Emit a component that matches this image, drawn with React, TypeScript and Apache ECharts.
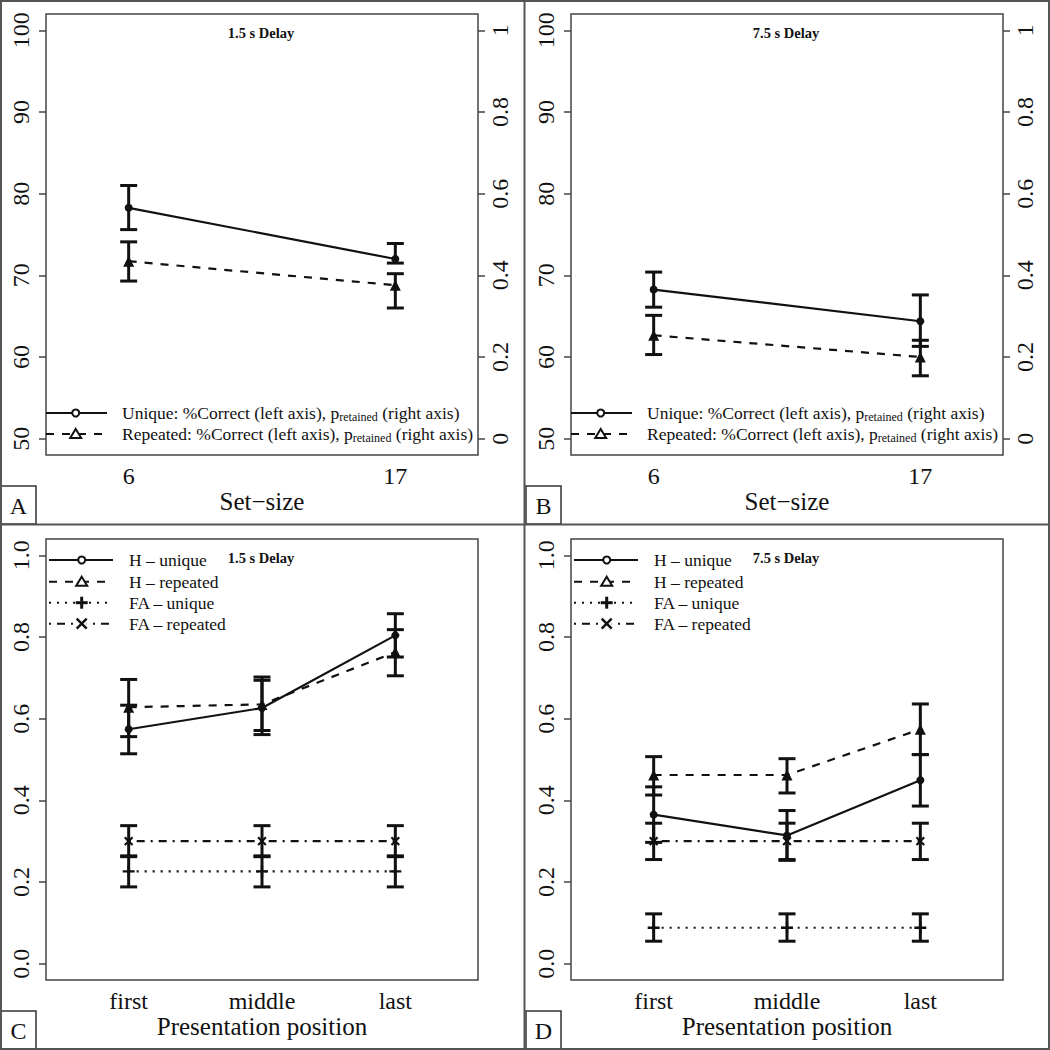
import React, { useEffect, useRef } from "react";
import * as echarts from "echarts";

// ---------------- DATA ----------------
const setSizes = [6, 17];
const positions = [1, 2, 3];
const positionLabels = ["first", "middle", "last"];
const leftTicksAB = [50, 60, 70, 80, 90, 100];
const rightTicksAB = [0, 0.2, 0.4, 0.6, 0.8, 1];
const ticksCD = [0, 0.2, 0.4, 0.6, 0.8, 1.0];

// Panel A (1.5 s delay) — %Correct
const uniqueA = [78.27, 72.0];
const uniqueALo = [75.6, 71.5];
const uniqueAHi = [81.0, 73.9];
const repeatedA = [71.73, 68.79];
const repeatedALo = [69.3, 66.0];
const repeatedAHi = [74.1, 70.2];

// Panel B (7.5 s delay)
const uniqueB = [68.26, 64.38];
const uniqueBLo = [66.1, 61.3];
const uniqueBHi = [70.4, 67.6];
const repeatedB = [62.66, 60.0];
const repeatedBLo = [60.3, 57.7];
const repeatedBHi = [65.1, 62.05];

// Panel C (1.5 s delay) — hits / false alarms
const hUniqueC = [0.574, 0.626, 0.804];
const hUniqueCLo = [0.514, 0.561, 0.751];
const hUniqueCHi = [0.633, 0.694, 0.857];
const hRepeatedC = [0.628, 0.635, 0.763];
const hRepeatedCLo = [0.556, 0.571, 0.705];
const hRepeatedCHi = [0.696, 0.702, 0.818];
const faUniqueC = [0.226, 0.226, 0.226];
const faUniqueCLo = [0.188, 0.188, 0.188];
const faUniqueCHi = [0.264, 0.264, 0.264];
const faRepeatedC = [0.3, 0.3, 0.3];
const faRepeatedCLo = [0.262, 0.262, 0.262];
const faRepeatedCHi = [0.338, 0.338, 0.338];

// Panel D (7.5 s delay)
const hUniqueD = [0.365, 0.314, 0.449];
const hUniqueDLo = [0.297, 0.253, 0.386];
const hUniqueDHi = [0.433, 0.375, 0.512];
const hRepeatedD = [0.462, 0.462, 0.574];
const hRepeatedDLo = [0.413, 0.418, 0.512];
const hRepeatedDHi = [0.507, 0.502, 0.636];
const faUniqueD = [0.088, 0.088, 0.088];
const faUniqueDLo = [0.055, 0.055, 0.055];
const faUniqueDHi = [0.122, 0.122, 0.122];
const faRepeatedD = [0.3, 0.3, 0.3];
const faRepeatedDLo = [0.255, 0.255, 0.255];
const faRepeatedDHi = [0.344, 0.344, 0.344];

const titles = ["1.5 s Delay", "7.5 s Delay", "1.5 s Delay", "7.5 s Delay"];
const panelLetters = ["A", "B", "C", "D"];
const legendAB = ["Unique", "Repeated"];
const legendCD = ["H \u2013 unique", "H \u2013 repeated", "FA \u2013 unique", "FA \u2013 repeated"];

// ---------------- STYLE ----------------
const FONT = '"Liberation Serif", "Times New Roman", serif';
const INK = "#111";
const BOX = "#444";
const DASH = [8, 8];
const DOT = [2, 6];
const DOTDASH = [2, 6, 8, 6];
const PLUS = "path://M4,0H6V4H10V6H6V10H4V6H0V4H4Z";

const origins = [
  [0, 0],
  [525, 0],
  [0, 525],
  [525, 525],
];

function lineSeries(xs: number[], ys: number[], xi: number, yi: number, symbol: string, size: number, dash: any, rotate = 0) {
  return {
    type: "line",
    xAxisIndex: xi,
    yAxisIndex: yi,
    data: xs.map((x, i) => [x, ys[i]]),
    symbol,
    symbolSize: size,
    symbolRotate: rotate,
    symbolKeepAspect: true,
    itemStyle: { color: INK },
    lineStyle: { color: INK, width: 2.2, type: dash },
    z: 3,
    silent: true,
  };
}

function errSeries(xs: number[], lo: number[], hi: number[], xi: number, yi: number) {
  return {
    type: "custom",
    xAxisIndex: xi,
    yAxisIndex: yi,
    data: xs.map((x, i) => [x, lo[i], hi[i]]),
    encode: { x: 0, y: [1, 2] },
    z: 4,
    silent: true,
    renderItem: (params: any, api: any) => {
      const x = api.value(0);
      const a = api.coord([x, api.value(1)]);
      const b = api.coord([x, api.value(2)]);
      const w = 8.5;
      const st = { stroke: INK, lineWidth: 3 };
      return {
        type: "group",
        children: [
          { type: "line", shape: { x1: a[0], y1: a[1], x2: b[0], y2: b[1] }, style: st },
          { type: "line", shape: { x1: a[0] - w, y1: a[1], x2: a[0] + w, y2: a[1] }, style: st },
          { type: "line", shape: { x1: b[0] - w, y1: b[1], x2: b[0] + w, y2: b[1] }, style: st },
        ],
      };
    },
  };
}

function legendMarker(kind: string, cx: number, cy: number): any[] {
  const st = { stroke: INK, lineWidth: 2, fill: "#fff" };
  if (kind === "circle") return [{ type: "circle", shape: { cx, cy, r: 3.5 }, style: st, z: 10 }];
  if (kind === "triangle")
    return [
      {
        type: "polygon",
        shape: { points: [[cx, cy - 5], [cx + 5.5, cy + 4], [cx - 5.5, cy + 4]] },
        style: st,
        z: 10,
      },
    ];
  if (kind === "plus")
    return [
      { type: "line", shape: { x1: cx - 6, y1: cy, x2: cx + 6, y2: cy }, style: { stroke: INK, lineWidth: 3 }, z: 10 },
      { type: "line", shape: { x1: cx, y1: cy - 6, x2: cx, y2: cy + 6 }, style: { stroke: INK, lineWidth: 3 }, z: 10 },
    ];
  return [
    { type: "rect", shape: { x: cx - 5, y: cy - 5, width: 10, height: 10 }, style: { fill: "#fff" }, z: 9 },
    { type: "line", shape: { x1: cx - 5, y1: cy - 5, x2: cx + 5, y2: cy + 5 }, style: { stroke: INK, lineWidth: 2.5 }, z: 10 },
    { type: "line", shape: { x1: cx - 5, y1: cy + 5, x2: cx + 5, y2: cy - 5 }, style: { stroke: INK, lineWidth: 2.5 }, z: 10 },
  ];
}

function legendRow(
  ox: number,
  y: number,
  x1: number,
  x2: number,
  mx: number,
  tx: number,
  dash: any,
  marker: string,
  text: string,
  rich: boolean
): any[] {
  const els: any[] = [];
  els.push({
    type: "line",
    shape: { x1: ox + x1, y1: y, x2: ox + x2, y2: y },
    style: { stroke: INK, lineWidth: 2, lineDash: dash || undefined },
    z: 9,
  });
  els.push(...legendMarker(marker, ox + mx, y));
  els.push({
    type: "text",
    x: ox + tx,
    y,
    z: 10,
    style: {
      text,
      fill: INK,
      fontFamily: FONT,
      fontSize: 17.5,
      align: "left",
      verticalAlign: "middle",
      lineHeight: 20,
      rich: rich
        ? {
            sub: { fontSize: 12, fontFamily: FONT, verticalAlign: "bottom", lineHeight: 20, fill: INK },
          }
        : undefined,
    },
  });
  return els;
}

export default function App() {
  const ref = useRef<HTMLDivElement>(null);

  useEffect(() => {
    if (!ref.current) return;
    const chart = echarts.init(ref.current, undefined, { renderer: "svg", width: 1050, height: 1050 });

    const grids = origins.map(([ox, oy]) => ({
      left: ox + 46,
      top: oy + 14,
      width: 432,
      height: 441,
      show: true,
      borderColor: BOX,
      borderWidth: 1.5,
      backgroundColor: "transparent",
      containLabel: false,
    }));

    const tickStyle = { show: true, length: 7, inside: false, lineStyle: { color: BOX, width: 1.5 } };
    const labelBase = { color: INK, fontFamily: FONT };

    const xAxes = origins.map((_, g) => {
      const isAB = g < 2;
      return {
        type: "value",
        gridIndex: g,
        min: isAB ? 2.59 : 0.38,
        max: isAB ? 20.41 : 3.62,
        axisLine: { show: false },
        axisTick: { show: false },
        splitLine: { show: false },
        axisLabel: {
          ...labelBase,
          fontSize: 24,
          margin: 9,
          customValues: isAB ? setSizes : positions,
          formatter: (v: number) => (isAB ? String(v) : positionLabels[Math.round(v) - 1]),
        },
        name: isAB ? "Set\u2212size" : "Presentation position",
        nameLocation: "middle",
        nameGap: 34,
        nameTextStyle: { color: INK, fontFamily: FONT, fontSize: 25 },
      };
    });

    const yAxes: any[] = [];
    // A left/right, B left/right, C, D
    [0, 1].forEach((g) => {
      yAxes.push({
        type: "value",
        gridIndex: g,
        position: "left",
        min: 48,
        max: 102,
        axisLine: { show: false },
        splitLine: { show: false },
        axisTick: { ...tickStyle, customValues: leftTicksAB },
        axisLabel: { ...labelBase, fontSize: 24, rotate: 90, margin: 13, customValues: leftTicksAB, formatter: (v: number) => String(v) },
      });
      yAxes.push({
        type: "value",
        gridIndex: g,
        position: "right",
        min: -0.04,
        max: 1.04,
        axisLine: { show: false },
        splitLine: { show: false },
        axisTick: { ...tickStyle, customValues: rightTicksAB },
        axisLabel: {
          ...labelBase,
          fontSize: 24,
          rotate: 90,
          margin: 10,
          customValues: rightTicksAB,
          formatter: (v: number) => (v === 0 ? "0" : v === 1 ? "1" : v.toFixed(1)),
        },
      });
    });
    [2, 3].forEach((g) => {
      yAxes.push({
        type: "value",
        gridIndex: g,
        position: "left",
        min: -0.04,
        max: 1.04,
        axisLine: { show: false },
        splitLine: { show: false },
        axisTick: { ...tickStyle, customValues: ticksCD },
        axisLabel: { ...labelBase, fontSize: 24, rotate: 90, margin: 13, customValues: ticksCD, formatter: (v: number) => v.toFixed(1) },
      });
    });

    const series: any[] = [
      // A
      lineSeries(setSizes, uniqueA, 0, 0, "circle", 8, "solid"),
      lineSeries(setSizes, repeatedA, 0, 0, "triangle", 11, DASH),
      errSeries(setSizes, uniqueALo, uniqueAHi, 0, 0),
      errSeries(setSizes, repeatedALo, repeatedAHi, 0, 0),
      // B
      lineSeries(setSizes, uniqueB, 1, 2, "circle", 8, "solid"),
      lineSeries(setSizes, repeatedB, 1, 2, "triangle", 11, DASH),
      errSeries(setSizes, uniqueBLo, uniqueBHi, 1, 2),
      errSeries(setSizes, repeatedBLo, repeatedBHi, 1, 2),
      // C
      lineSeries(positions, hUniqueC, 2, 4, "circle", 8, "solid"),
      lineSeries(positions, hRepeatedC, 2, 4, "triangle", 11, DASH),
      lineSeries(positions, faUniqueC, 2, 4, PLUS, 12, DOT),
      lineSeries(positions, faRepeatedC, 2, 4, PLUS, 11, DOTDASH, 45),
      errSeries(positions, hUniqueCLo, hUniqueCHi, 2, 4),
      errSeries(positions, hRepeatedCLo, hRepeatedCHi, 2, 4),
      errSeries(positions, faUniqueCLo, faUniqueCHi, 2, 4),
      errSeries(positions, faRepeatedCLo, faRepeatedCHi, 2, 4),
      // D
      lineSeries(positions, hUniqueD, 3, 5, "circle", 8, "solid"),
      lineSeries(positions, hRepeatedD, 3, 5, "triangle", 11, DASH),
      lineSeries(positions, faUniqueD, 3, 5, PLUS, 12, DOT),
      lineSeries(positions, faRepeatedD, 3, 5, PLUS, 11, DOTDASH, 45),
      errSeries(positions, hUniqueDLo, hUniqueDHi, 3, 5),
      errSeries(positions, hRepeatedDLo, hRepeatedDHi, 3, 5),
      errSeries(positions, faUniqueDLo, faUniqueDHi, 3, 5),
      errSeries(positions, faRepeatedDLo, faRepeatedDHi, 3, 5),
    ];

    const graphics: any[] = [];
    // frame and separators
    graphics.push({
      type: "rect",
      shape: { x: 1, y: 1, width: 1048, height: 1048 },
      style: { stroke: "#555", lineWidth: 2, fill: "none" },
      z: 20,
    });
    graphics.push({ type: "line", shape: { x1: 524.5, y1: 0, x2: 524.5, y2: 1050 }, style: { stroke: "#555", lineWidth: 2 }, z: 20 });
    graphics.push({ type: "line", shape: { x1: 0, y1: 524.5, x2: 1050, y2: 524.5 }, style: { stroke: "#555", lineWidth: 2 }, z: 20 });

    origins.forEach(([ox, oy], g) => {
      // delay title
      graphics.push({
        type: "text",
        x: ox + 261,
        y: oy + 33,
        z: 10,
        style: {
          text: titles[g],
          fill: INK,
          fontFamily: FONT,
          fontSize: 14.5,
          fontWeight: "bold",
          align: "center",
          verticalAlign: "middle",
        },
      });
      // panel letter box
      graphics.push({
        type: "rect",
        shape: { x: ox + 1, y: oy + 486, width: 35, height: 38 },
        style: { stroke: "#333", lineWidth: 1.5, fill: "#fff" },
        z: 15,
      });
      graphics.push({
        type: "text",
        x: ox + 18.5,
        y: oy + 506,
        z: 16,
        style: {
          text: panelLetters[g],
          fill: INK,
          fontFamily: FONT,
          fontSize: 24,
          align: "center",
          verticalAlign: "middle",
        },
      });

      if (g < 2) {
        const label = (name: string) => `${name}: %Correct (left axis), p{sub|retained} (right axis)`;
        graphics.push(...legendRow(ox, oy + 413, 46, 107, 75.7, 122, null, "circle", label(legendAB[0]), true));
        graphics.push(...legendRow(ox, oy + 434, 46, 107, 75.7, 122, DASH, "triangle", label(legendAB[1]), true));
      } else {
        const rows = [
          { d: null, m: "circle" },
          { d: DASH, m: "triangle" },
          { d: DOT, m: "plus" },
          { d: DOTDASH, m: "cross" },
        ];
        const ys = [35, 56.7, 77.7, 98.7];
        rows.forEach((r, i) => {
          graphics.push(...legendRow(ox, oy + ys[i], 49, 113, 81.7, 129, r.d, r.m, legendCD[i], false));
        });
      }
    });

    chart.setOption({
      animation: false,
      backgroundColor: "#fff",
      textStyle: { fontFamily: FONT },
      grid: grids,
      xAxis: xAxes,
      yAxis: yAxes,
      series,
      graphic: { elements: graphics },
    });

    return () => chart.dispose();
  }, []);

  return <div ref={ref} style={{ position: "absolute", left: 0, top: 0, width: 1050, height: 1050 }} />;
}
